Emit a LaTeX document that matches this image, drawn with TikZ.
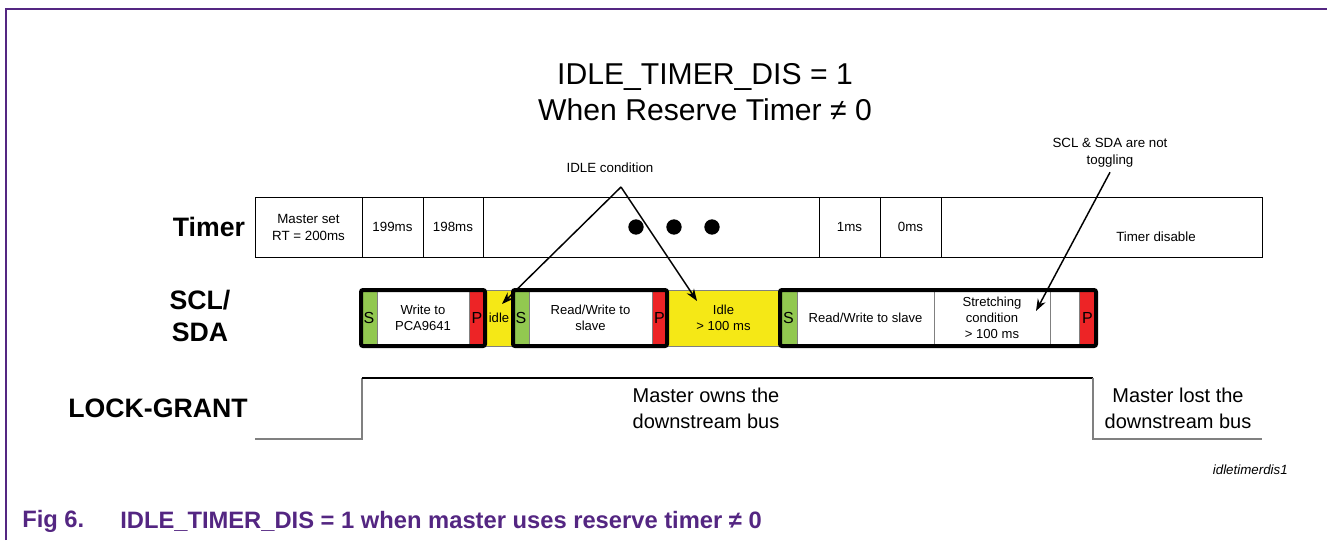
\documentclass[tikz,border=0pt]{standalone}
\usepackage{fontspec}
\setmainfont{Liberation Sans}
\usetikzlibrary{positioning,arrows.meta}

\definecolor{nxpurple}{RGB}{84,38,130}
\definecolor{sgreen}{RGB}{146,200,80}
\definecolor{pred}{RGB}{237,36,38}
\definecolor{idleyel}{RGB}{245,232,22}

\tikzset{
    cell/.style={draw, rectangle, inner sep=0pt, outer sep=0pt, minimum height=45pt, align=center, font=\fontsize{10}{12.75}\selectfont},
    seg/.style={draw=gray, rectangle, inner sep=0pt, outer sep=0pt, minimum height=42pt, align=center, font=\fontsize{9.8}{11.8}\selectfont},
    mark letter/.style={font=\fontsize{12}{14}\selectfont},
    rowlabel/.style={align=center, font=\fontsize{20}{24}\selectfont\bfseries},
    note/.style={align=center, font=\fontsize{10}{12.75}\selectfont},
    bigtext/.style={align=center, font=\fontsize{15}{19.5}\selectfont},
    framebox/.style={line width=3pt, rounded corners=1.5pt},
    callout/.style={line width=1.1pt, -{Stealth[length=9pt,width=6.5pt]}},
    wave/.style={line width=1.1pt},
    caption/.style={anchor=west, inner sep=0pt, text=nxpurple, font=\fontsize{17.8}{20}\selectfont\bfseries},
}

\begin{document}
\begin{tikzpicture}[x=0.75pt, y=-0.75pt]
    \useasboundingbox (0,0) rectangle (1327,540);
    \draw[nxpurple, line width=1.1pt] (6,540) -- (6,9) -- (1327,9);

    \node[align=center, font=\fontsize{22.6}{27}\selectfont] (title) at (705,92) {IDLE\_TIMER\_DIS = 1\\When Reserve Timer ≠ 0};

    % row labels
    \node[rowlabel] (timerlbl) at (209,227) {Timer};
    \node[rowlabel] (scllbl) at (200,316) {SCL/\\SDA};
    \node[rowlabel] (locklbl) at (158,408) {LOCK-GRANT};

    % timer row
    \node[cell, minimum width=80.25pt, anchor=west] (tset) at (255,227) {Master set\\RT = 200ms};
    \node[cell, minimum width=45.75pt, right=0pt of tset] (t199) {199ms};
    \node[cell, minimum width=45pt, right=0pt of t199] (t198) {198ms};
    \node[cell, minimum width=252pt, right=0pt of t198] (tgap) {};
    \node[cell, minimum width=45.75pt, right=0pt of tgap] (t1) {1ms};
    \node[cell, minimum width=45.75pt, right=0pt of t1] (t0) {0ms};
    \node[cell, minimum width=240.75pt, right=0pt of t0] (toff) {};
    \node[note] (tdis) at (1156,237) {Timer disable};
    \foreach \d/\x in {1/636, 2/674, 3/712}
        \node[circle, fill, inner sep=0pt, minimum size=11.5pt] (dot\d) at (\x,227) {};

    % SCL/SDA row
    \node[seg, mark letter, fill=sgreen, minimum width=12pt, anchor=west] (sA) at (361,318) {S};
    \node[seg, fill=white, minimum width=69pt, right=0pt of sA] (wA) {Write to\\PCA9641};
    \node[seg, mark letter, fill=pred, minimum width=12pt, right=0pt of wA] (pA) {P};
    \node[seg, fill=idleyel, minimum width=21pt, right=0pt of pA] (idleA) {idle};
    \node[seg, mark letter, fill=sgreen, minimum width=12pt, right=0pt of idleA] (sB) {S};
    \node[seg, fill=white, minimum width=92.25pt, right=0pt of sB] (wB) {Read/Write to\\slave};
    \node[seg, mark letter, fill=pred, minimum width=11.25pt, right=0pt of wB] (pB) {P};
    \node[seg, fill=idleyel, minimum width=84.75pt, right=0pt of pB] (idleB) {Idle\\> 100 ms};
    \node[seg, mark letter, fill=sgreen, minimum width=12.75pt, right=0pt of idleB] (sC) {S};
    \node[seg, fill=white, minimum width=102.75pt, right=0pt of sC] (wC) {Read/Write to slave};
    \node[seg, fill=white, minimum width=87pt, right=0pt of wC] (stretch) {Stretching\\condition\\> 100 ms};
    \node[seg, fill=white, minimum width=21.75pt, right=0pt of stretch] (hold) {};
    \node[seg, mark letter, fill=pred, minimum width=12.75pt, right=0pt of hold] (pC) {P};

    \draw[framebox] (sA.north west) rectangle (pA.south east);
    \draw[framebox] (sB.north west) rectangle (pB.south east);
    \draw[framebox] (sC.north west) rectangle (pC.south east);

    % callouts
    \node[note] (idlecond) at (610,168) {IDLE condition};
    \coordinate (idleapex) at (621,187);
    \coordinate (idleAend) at (502,304);
    \coordinate (idleBend) at (697,301);
    \draw[callout] (idleapex) -- (idleAend);
    \draw[callout] (idleapex) -- (idleBend);

    \node[note] (toggle) at (1110,153) {SCL \& SDA are not\\toggling};
    \coordinate (toggleend) at (1036,311);
    \draw[callout] (toggle.south) -- (toggleend);

    % lock grant
    \coordinate (lg0) at (255,439);
    \coordinate (lg1) at (362,439);
    \coordinate (lg2) at (362,378);
    \coordinate (lg3) at (1093,378);
    \coordinate (lg4) at (1093,439);
    \coordinate (lg5) at (1262,439);
    \draw[wave, gray] (lg0) -- (lg1) -- (lg2);
    \draw[wave] (lg2) -- (lg3);
    \draw[wave, gray] (lg3) -- (lg4) -- (lg5);
    \node[bigtext] (owns) at (706,408) {Master owns the\\downstream bus};
    \node[bigtext] (lost) at (1178,408) {Master lost the\\downstream bus};

    \node[anchor=east, inner sep=0pt, font=\fontsize{10}{12}\selectfont\itshape] (figtag) at (1288,470) {idletimerdis1};

    \node[caption] (figno) at (22,521) {Fig 6.};
    \node[caption] (figtitle) at (120,521) {IDLE\_TIMER\_DIS = 1 when master uses reserve timer ≠ 0};
\end{tikzpicture}
\end{document}
